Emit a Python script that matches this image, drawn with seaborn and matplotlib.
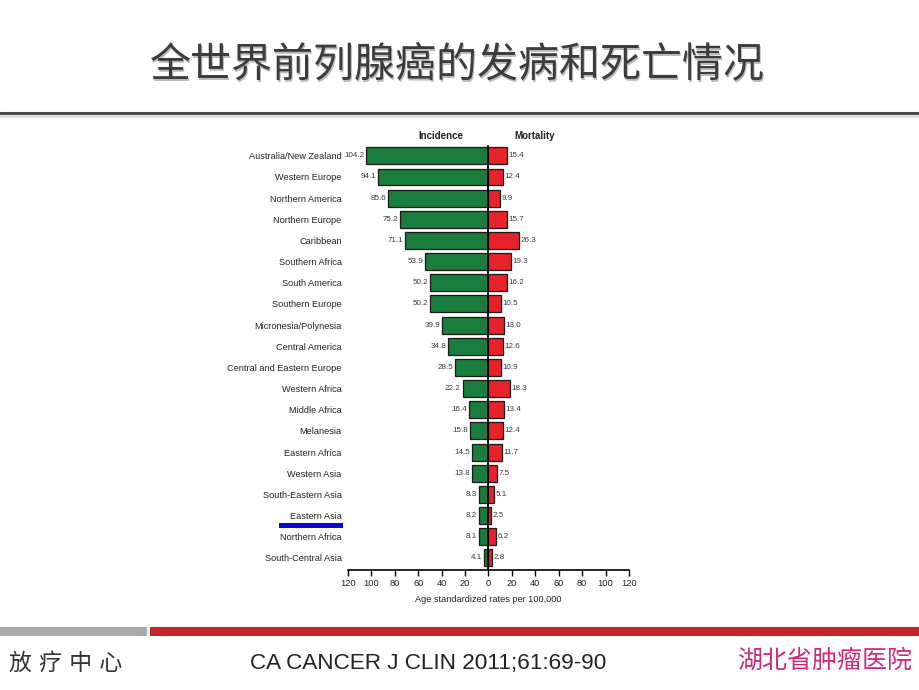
import numpy as np
import pandas as pd
import matplotlib
matplotlib.use("Agg")
import matplotlib.pyplot as plt
from matplotlib.patches import Rectangle
from matplotlib.lines import Line2D
import seaborn as sns

# ---------------- data ----------------
regions = [
    "Australia/New Zealand", "Western Europe", "Northern America", "Northern Europe",
    "Caribbean", "Southern Africa", "South America", "Southern Europe",
    "Micronesia/Polynesia", "Central America", "Central and Eastern Europe",
    "Western Africa", "Middle Africa", "Melanesia", "Eastern Africa",
    "Western Asia", "South-Eastern Asia", "Eastern Asia", "Northern Africa",
    "South-Central Asia",
]
incidence = [104.2, 94.1, 85.6, 75.2, 71.1, 53.9, 50.2, 50.2, 39.9, 34.8,
             28.5, 22.2, 16.4, 15.8, 14.5, 13.8, 8.3, 8.2, 8.1, 4.1]
mortality = [15.4, 12.4, 9.9, 15.7, 26.3, 19.3, 16.2, 10.5, 13.0, 12.6,
             10.9, 18.3, 13.4, 12.4, 11.7, 7.5, 5.1, 2.5, 6.2, 2.8]
xticks = [-120, -100, -80, -60, -40, -20, 0, 20, 40, 60, 80, 100, 120]

title = "全世界前列腺癌的发病和死亡情况"
footer_left = "放 疗 中 心"
footer_mid = "CA CANCER J CLIN 2011;61:69-90"
footer_right = "湖北省肿瘤医院"

df = pd.DataFrame({"region": regions,
                   "incidence": incidence,
                   "mortality": mortality})
df["neg_incidence"] = -df["incidence"]

# ---------------- style ----------------
sns.set_style("white")
plt.rcParams['font.family'] = ['Noto Sans CJK SC', 'DejaVu Sans']
LAT = ['Liberation Sans', 'DejaVu Sans']
CJK = ['Noto Sans CJK SC', 'DejaVu Sans']

GREEN = "#1b7d3d"
RED = "#e8222a"
EDGE = "#1a1a1a"

W, H = 920, 690
fig = plt.figure(figsize=(9.2, 6.9), dpi=100)
fig.patch.set_facecolor("white")

def fx(px):
    return px / W

def fy(py):
    return 1 - py / H

left, right, top, bottom = 348, 629, 141, 570
ax = fig.add_axes([fx(left), fy(bottom), fx(right - left), (bottom - top) / H])

sns.barplot(data=df, x="neg_incidence", y="region", orient="h", color=GREEN,
            edgecolor=EDGE, linewidth=0.9, width=0.8, saturation=1, ax=ax)
sns.barplot(data=df, x="mortality", y="region", orient="h", color=RED,
            edgecolor=EDGE, linewidth=0.9, width=0.8, saturation=1, ax=ax)

ax.set_xlim(-120, 120)
ax.set_ylim(len(regions) - 1 + 0.57, -0.7)
ax.axvline(0, ymin=0, ymax=0.988, color="black", lw=1.4, zorder=5)

for i, (inc, mor) in enumerate(zip(incidence, mortality)):
    ax.text(-inc - 1.5, i, f"{inc:.1f}", ha="right", va="center",
            fontsize=5.8, color="#3a3a3a", family=LAT)
    ax.text(mor + 1.2, i, f"{mor:.1f}", ha="left", va="center",
            fontsize=5.8, color="#3a3a3a", family=LAT)

ax.text(-41, -0.72, "Incidence", ha="center", va="bottom", fontsize=7,
        fontweight="bold", color="#222222", family=LAT)
ax.text(39, -0.72, "Mortality", ha="center", va="bottom", fontsize=7,
        fontweight="bold", color="#222222", family=LAT)

ax.set_xticks(xticks)
ax.set_xticklabels([str(abs(t)) for t in xticks], fontsize=6.7, family=LAT,
                   color="#222222")
ax.tick_params(axis="x", direction="out", length=4, width=1.0, color="black",
               pad=2.5, bottom=True)
ax.tick_params(axis="y", length=0, pad=4.5)
for lab in ax.get_yticklabels():
    lab.set_fontsize(6.6)
    lab.set_family(LAT)
    lab.set_color("#222222")
ax.set_ylabel("")
ax.set_xlabel("Age standardized rates per 100,000", fontsize=6.6, family=LAT,
              color="#222222", labelpad=5)
for s in ["left", "right", "top"]:
    ax.spines[s].set_visible(False)
ax.spines["bottom"].set_color("black")
ax.spines["bottom"].set_linewidth(1.2)
ax.set_facecolor("white")

# ---------------- slide decorations ----------------
fig.text(fx(457) + 0.0015, fy(65) - 0.002, title, ha="center", va="center",
         fontsize=29.5, color="#bbbbbb", family=CJK)
fig.text(fx(457), fy(65), title, ha="center", va="center",
         fontsize=29.5, color="#3c3c3c", family=CJK)

fig.add_artist(Line2D([0, 1], [fy(112.5), fy(112.5)], transform=fig.transFigure,
                      color="#4a4a4a", lw=2.2))
fig.add_artist(Line2D([0, 1], [fy(115.5), fy(115.5)], transform=fig.transFigure,
                      color="#c8c8c8", lw=1.0))

fig.add_artist(Rectangle((0, fy(636)), fx(147), (636 - 627) / H,
                         transform=fig.transFigure, color="#a9a9a9", lw=0))
fig.add_artist(Rectangle((fx(150), fy(636)), 1 - fx(150), (636 - 627) / H,
                         transform=fig.transFigure, color="#c4262c", lw=0))

# blue underline under "Eastern Asia"
fig.add_artist(Rectangle((fx(279), fy(528)), fx(343 - 279), 5 / H,
                         transform=fig.transFigure, color="#0a0acc", lw=0))

fig.text(fx(9), fy(663), footer_left, ha="left", va="center", fontsize=16.5,
         color="#333333", family=['DejaVu Sans', 'Noto Sans CJK SC'])
fig.text(fx(250), fy(663), footer_mid, ha="left", va="center", fontsize=16.2,
         color="#222222", family=LAT)
fig.text(fx(912), fy(661), footer_right, ha="right", va="center", fontsize=18,
         color="#d12a7c", family=CJK)

fig.savefig("out.png", dpi=100, facecolor="white")
